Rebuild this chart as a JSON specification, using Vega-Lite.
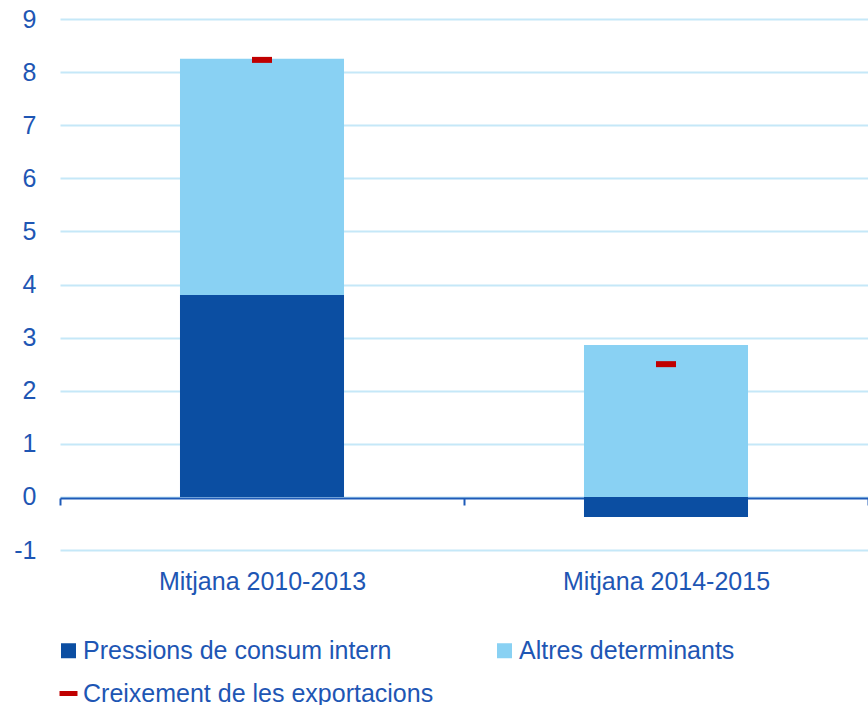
{
  "$schema": "https://vega.github.io/schema/vega-lite/v6.json",
  "width": 808,
  "height": 531,
  "autosize": {"type": "none"},
  "padding": {"left": 60, "top": 19, "right": 0, "bottom": 155},
  "background": "white",
  "config": {
    "view": {"stroke": null},
    "font": "Liberation Sans"
  },
  "data": {
    "values": [
      {"cat": "Mitjana 2010-2013", "series": "Pressions de consum intern", "value": 3.8, "ord": 1},
      {"cat": "Mitjana 2010-2013", "series": "Altres determinants", "value": 4.45, "ord": 2},
      {"cat": "Mitjana 2010-2013", "series": "Creixement de les exportacions", "value": 8.23, "ord": 3},
      {"cat": "Mitjana 2014-2015", "series": "Pressions de consum intern", "value": -0.38, "ord": 1},
      {"cat": "Mitjana 2014-2015", "series": "Altres determinants", "value": 2.86, "ord": 2},
      {"cat": "Mitjana 2014-2015", "series": "Creixement de les exportacions", "value": 2.5, "ord": 3}
    ]
  },
  "encoding": {
    "x": {
      "field": "cat", "type": "nominal", "sort": null,
      "scale": {"paddingInner": 0, "paddingOuter": 0},
      "axis": {
        "title": null, "labelAngle": 0, "offset": -52,
        "domainColor": "#1e5bb8", "domainWidth": 2,
        "tickColor": "#1e5bb8", "tickWidth": 2, "tickSize": 7, "tickBand": "extent",
        "labelColor": "#1e56b4", "labelFontSize": 25, "labelPadding": 64,
        "labelFont": "Liberation Sans", "labelLimit": 600
      }
    },
    "color": {
      "field": "series", "type": "nominal",
      "scale": {
        "domain": ["Pressions de consum intern", "Altres determinants", "Creixement de les exportacions"],
        "range": ["#0b4ea2", "#89d1f3", "#c00000"]
      },
      "legend": {
        "title": null, "orient": "none", "legendX": -4, "legendY": 619,
        "direction": "horizontal", "columns": 2, "columnPadding": 58, "rowPadding": 17,
        "padding": 0,
        "labelFontSize": 25, "labelColor": "#1e56b4", "labelFont": "Liberation Sans",
        "labelOffset": 2, "labelLimit": 600,
        "symbolSize": 225, "symbolStrokeWidth": 0, "symbolOpacity": 1,
        "symbolType": "square",
        "encode": {
          "symbols": {
            "update": {
              "shape": {"signal": "datum.value === 'Creixement de les exportacions' ? 'M-1.2,-0.33H1.2V0.33H-1.2Z' : 'square'"}
            }
          }
        }
      }
    }
  },
  "layer": [
    {
      "transform": [{"filter": "datum.series !== 'Creixement de les exportacions'"}],
      "mark": {"type": "bar", "width": {"band": 0.406}},
      "encoding": {
        "y": {
          "field": "value", "type": "quantitative", "stack": "zero",
          "scale": {"domain": [-1, 9], "nice": false},
          "axis": {
            "title": null, "values": [-1, 0, 1, 2, 3, 4, 5, 6, 7, 8, 9],
            "domain": false, "ticks": false,
            "gridColor": "#c5e8f8", "gridWidth": 2,
            "labelColor": "#1e56b4", "labelFontSize": 25, "labelPadding": 24,
            "labelFont": "Liberation Sans",
            "labelExpr": "replace(datum.label, '\u2212', '-')"
          }
        },
        "order": {"field": "ord", "type": "quantitative"}
      }
    },
    {
      "transform": [{"filter": "datum.series === 'Creixement de les exportacions'"}],
      "mark": {"type": "tick", "size": 20, "thickness": 6, "opacity": 1},
      "encoding": {
        "y": {"field": "value", "type": "quantitative"}
      }
    }
  ]
}
